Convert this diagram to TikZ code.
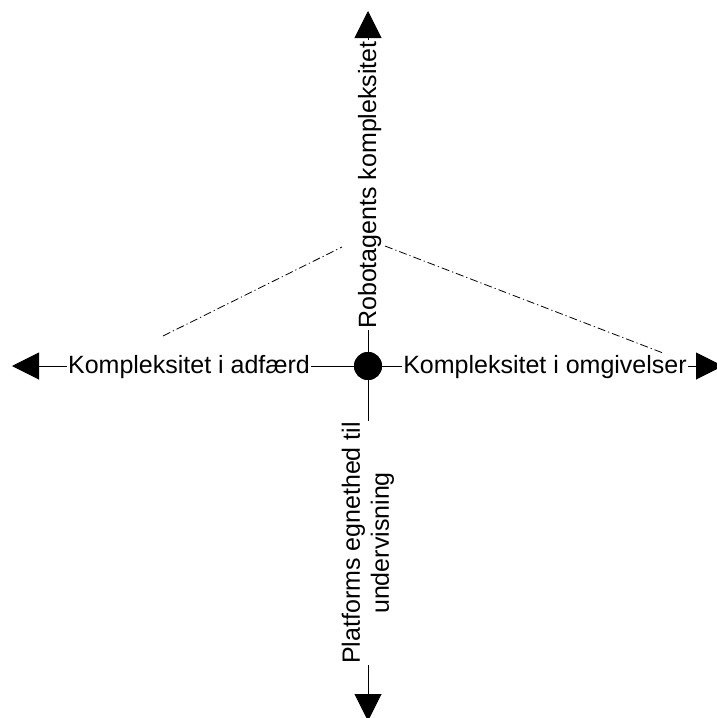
\documentclass[tikz,border=0pt]{standalone}
\usepackage{fontspec}
\setmainfont{Liberation Sans}
\usetikzlibrary{arrows.meta}
\begin{document}
\begin{tikzpicture}[x=1pt,y=-1pt,
  axis/.style={line width=1pt,-{Triangle[length=27pt,width=27pt]}},
  lbl/.style={fill=white,inner sep=1pt,font=\fontsize{25}{29}\selectfont},
  guide/.style={line width=0.8pt,black,dash pattern=on 8pt off 3pt on 1.2pt off 3pt}]
\useasboundingbox (0,0) rectangle (717,718);
\clip (0,0) rectangle (717,718);

% centre of the cross and the four arrow tips
\node[circle,fill=black,minimum size=28pt,inner sep=0pt] (dot) at (368,366) {};
\coordinate (north) at (368,11);
\coordinate (south) at (368,721);
\coordinate (west)  at (12,366);
\coordinate (east)  at (723,366);

% axes
\draw[axis] (dot) -- (north);
\draw[axis] (dot) -- (south);
\draw[axis] (dot) -- (west);
\draw[axis] (dot) -- (east);

% dash-dot guide lines
\coordinate (gl1) at (163,336);
\coordinate (gl2) at (342,247);
\coordinate (gr1) at (385,246);
\coordinate (gr2) at (663,353);
\draw[guide] (gl1) -- (gl2);
\draw[guide] (gr1) -- (gr2);

% axis labels
\node[lbl,anchor=base] (lw) at (189,373) {Kompleksitet i adfærd};
\node[lbl,anchor=base] (le) at (545,373) {Kompleksitet i omgivelser};
\node[lbl,rotate=90,anchor=base] (ln) at (376,185) {Robotagents kompleksitet};
\node[lbl,rotate=90,align=center] (ls) at (368,543) {Platforms egnethed til\\undervisning};

% redraw the dot on top
\node[circle,fill=black,minimum size=28pt,inner sep=0pt] at (dot) {};
\end{tikzpicture}
\end{document}
